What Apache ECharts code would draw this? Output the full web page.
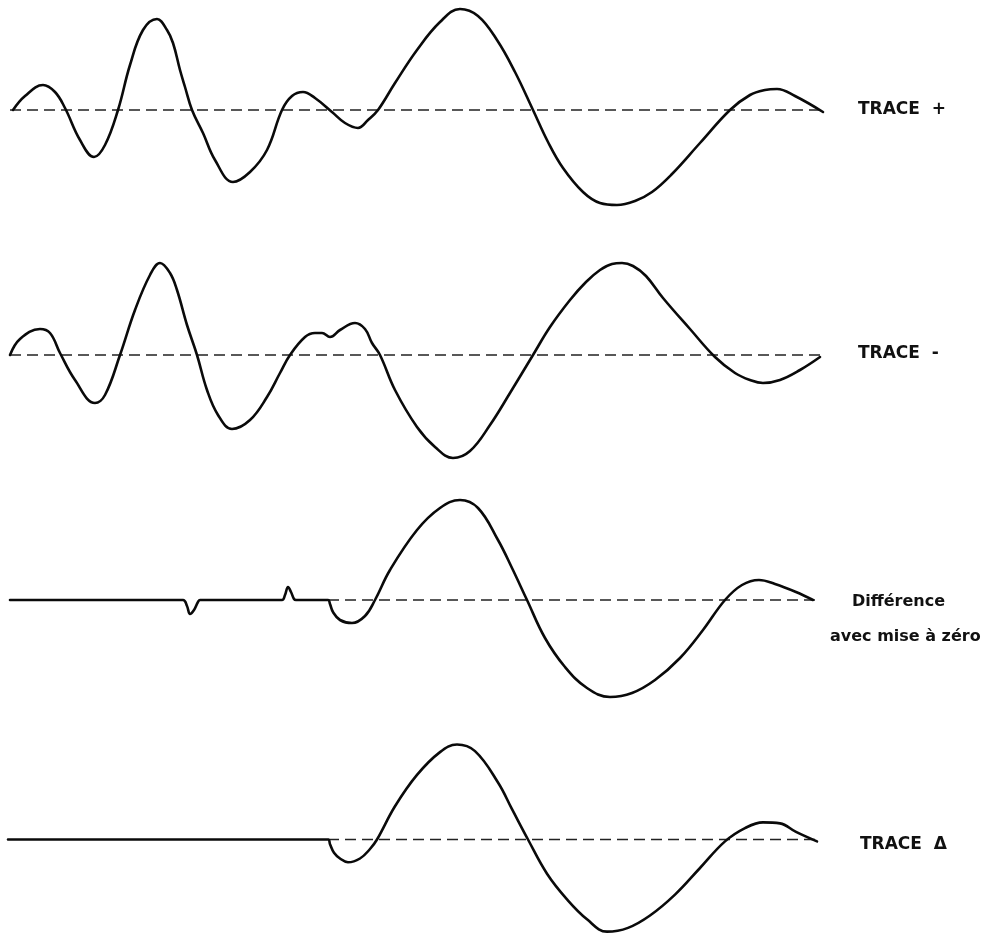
<!DOCTYPE html>
<html>
<head>
<meta charset="utf-8">
<title>Traces</title>
<script src="https://cdn.jsdelivr.net/npm/echarts@6/dist/echarts.min.js"></script>
<style>
  html, body { margin: 0; padding: 0; background: #ffffff; }
  #chart { width: 991px; height: 944px; }
</style>
</head>
<body>
<div id="chart"></div>
<script>
// Sampled waveforms: [time, amplitude] pairs, amplitude relative to each trace's zero line.
const tracePlus = [
  [13, 0], [25, 14], [43, 25], [55, 18], [65, 2], [80, -30], [94, -47], [105, -35],
  [118, 0], [130, 45], [143, 80], [157, 91], [167, 80], [173, 67], [180, 40], [185, 23],
  [192, 0], [203, -23], [215, -50], [233, -72], [250, -62], [267, -40], [282, 0], [292, 14],
  [303, 18], [315, 12], [332, -2], [345, -13], [358, -18], [368, -10], [378, 0], [395, 27],
  [417, 60], [440, 88], [460, 101], [478, 94], [497, 70], [515, 38], [533, 0], [548, -32],
  [563, -58], [583, -82], [600, -93], [617, -95], [635, -91], [652, -82], [672, -64],
  [700, -33], [730, 0], [750, 15], [765, 20], [777, 21], [795, 14], [823, -2]
];

const traceMinus = [
  [10, 0], [20, 16], [40, 26], [50, 22], [60, 2], [75, -25], [95, -48], [105, -40],
  [120, 0], [135, 45], [150, 80], [160, 92], [170, 82], [177, 65], [187, 30], [197, 0],
  [207, -35], [218, -60], [232, -74], [250, -65], [267, -42], [280, -18], [290, 0],
  [305, 18], [315, 22], [322, 22], [330, 18], [340, 25], [355, 32], [365, 26], [372, 12],
  [380, 0], [395, -35], [417, -72], [435, -92], [453, -103], [470, -96], [490, -70],
  [510, -38], [533, 0], [550, 28], [570, 55], [586, 73], [600, 85], [612, 91], [622, 92],
  [633, 89], [646, 79], [663, 57], [690, 26], [715, -2], [735, -18], [750, -25],
  [763, -28], [780, -25], [800, -15], [820, -2]
];

const traceDifference = [
  [10, 0], [183, 0], [187, -6], [190, -14], [194, -10], [198, -2], [200, 0], [282, 0],
  [285, 5], [288, 13], [291, 8], [294, 1], [296, 0], [328, 0], [330, -4], [333, -12],
  [340, -20], [352, -23], [365, -16], [375, 0], [390, 30], [417, 70], [440, 92], [460, 100],
  [478, 92], [498, 60], [512, 32], [527, 0], [545, -38], [565, -67], [587, -88], [610, -97],
  [632, -93], [655, -80], [680, -58], [703, -30], [725, 0], [742, 15], [759, 20],
  [775, 16], [796, 8], [813, 0]
];

const traceDelta = [
  [8, 0], [328, 0], [330, -5], [334, -14], [340, -20], [348, -24], [360, -20], [370, -10],
  [377, 0], [395, 35], [417, 68], [440, 92], [457, 100], [475, 93], [498, 60], [512, 32],
  [528, 0], [547, -36], [567, -63], [587, -84], [607, -97], [628, -93], [650, -80],
  [675, -58], [700, -30], [725, -2], [745, 12], [763, 18], [780, 17], [796, 8], [817, -2]
];

// Extent of each dashed zero line (start time, end time).
const zeroSpans = [[10, 823], [10, 822], [328, 815], [328, 818]];

// Right-hand captions, one per trace (the third has two lines).
const traceLabels = [['TRACE  +'], ['TRACE  -'], ['Différence', 'avec mise à zéro'], ['TRACE  Δ']];

const traces = [tracePlus, traceMinus, traceDifference, traceDelta];

// Layout: each trace gets its own grid centred on its zero line.
const zeroLineY = [110, 355, 600, 845];
const halfRange = 110;

const grids = [], xAxes = [], yAxes = [], series = [];
traces.forEach((data, i) => {
  grids.push({ left: 0, right: 0, top: zeroLineY[i] - halfRange, height: 2 * halfRange });
  xAxes.push({ type: 'value', gridIndex: i, min: 0, max: 991, show: false });
  yAxes.push({ type: 'value', gridIndex: i, min: -halfRange, max: halfRange, show: false });
  series.push({
    type: 'line',
    xAxisIndex: i, yAxisIndex: i,
    data: [[zeroSpans[i][0], 0], [zeroSpans[i][1], 0]],
    symbol: 'none', silent: true, z: 1,
    lineStyle: { color: '#222', width: 1.4, type: [11, 6] }
  });
  series.push({
    type: 'line',
    xAxisIndex: i, yAxisIndex: i,
    data: data,
    smooth: 0.4,
    symbol: 'none', silent: true, z: 2,
    lineStyle: { color: '#0a0a0a', width: 2.6, cap: 'round', join: 'round' }
  });
});

const traceFont = 'bold 17px "DejaVu Sans", sans-serif';
const noteFont = 'bold 16px "DejaVu Sans", sans-serif';
const graphic = [
  { type: 'text', left: 858, top: zeroLineY[0] - 9, style: { text: traceLabels[0][0], font: traceFont, fill: '#111' } },
  { type: 'text', left: 858, top: zeroLineY[1] - 10, style: { text: traceLabels[1][0], font: traceFont, fill: '#111' } },
  { type: 'text', left: 852, top: zeroLineY[2] - 6, style: { text: traceLabels[2][0], font: noteFont, fill: '#111' } },
  { type: 'text', left: 830, top: zeroLineY[2] + 29, style: { text: traceLabels[2][1], font: noteFont, fill: '#111' } },
  { type: 'text', left: 860, top: zeroLineY[3] - 9, style: { text: traceLabels[3][0], font: traceFont, fill: '#111' } }
];

const chart = echarts.init(document.getElementById('chart'), null, { renderer: 'canvas' });
chart.setOption({
  backgroundColor: '#ffffff',
  animation: false,
  grid: grids,
  xAxis: xAxes,
  yAxis: yAxes,
  series: series,
  graphic: graphic
});
</script>
</body>
</html>
